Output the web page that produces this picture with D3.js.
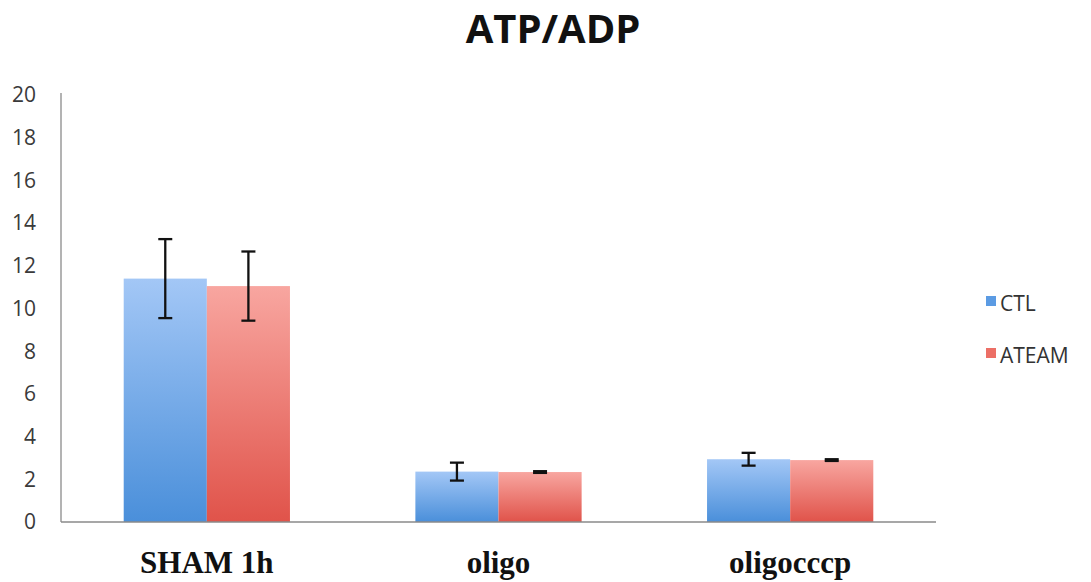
<!DOCTYPE html>
<html>
<head>
<meta charset="utf-8">
<script src="https://cdn.jsdelivr.net/npm/d3@7"></script>
<style>
  html, body { margin: 0; padding: 0; background: #fff; }
  svg { display: block; }
</style>
</head>
<body>
<svg id="chart" width="1091" height="582"></svg>
<script>
const categories = ["SHAM 1h", "oligo", "oligocccp"];
const seriesNames = ["CTL", "ATEAM"];
const ctlValues = [11.4, 2.36, 2.94];
const ctlErrors = [1.85, 0.42, 0.3];
const ateamValues = [11.05, 2.34, 2.9];
const ateamErrors = [1.62, 0.04, 0.04];
const yTicks = [0, 2, 4, 6, 8, 10, 12, 14, 16, 18, 20];

const series = [
  { name: seriesNames[0], values: ctlValues, errors: ctlErrors, top: "#a3c7f6", bottom: "#4a8fda", legend: "#5b9be3" },
  { name: seriesNames[1], values: ateamValues, errors: ateamErrors, top: "#f8a6a0", bottom: "#e0534a", legend: "#ec6f66" }
];

const svg = d3.select("#chart");
const defs = svg.append("defs");
series.forEach((s, i) => {
  const g = defs.append("linearGradient").attr("id", "grad" + i)
    .attr("x1", 0).attr("y1", 0).attr("x2", 0).attr("y2", 1);
  g.append("stop").attr("offset", "0%").attr("stop-color", s.top);
  g.append("stop").attr("offset", "100%").attr("stop-color", s.bottom);
});

const x0 = d3.scaleBand().domain(categories).range([61, 936]).paddingInner(0.43).paddingOuter(0.215);
const x1 = d3.scaleBand().domain(seriesNames).range([0, x0.bandwidth()]);
const y = d3.scaleLinear().domain([0, 20]).range([522, 95]);

// title
svg.append("text").attr("x", 553).attr("y", 43).attr("text-anchor", "middle")
  .attr("font-family", "Open Sans, sans-serif").attr("font-weight", "bold").attr("font-size", 40)
  .attr("fill", "#111").text("ATP/ADP");

// y tick labels
svg.append("g").selectAll("text").data(yTicks).join("text")
  .attr("x", 36).attr("y", d => y(d)).attr("dy", "0.35em").attr("text-anchor", "end")
  .attr("font-family", "Open Sans, sans-serif").attr("font-size", 21).attr("fill", "#3a3a3a")
  .text(d => d);

// bars
series.forEach((s, i) => {
  svg.append("g").selectAll("rect").data(categories).join("rect")
    .attr("x", c => x0(c) + x1(s.name))
    .attr("y", (c, j) => y(s.values[j]))
    .attr("width", x1.bandwidth())
    .attr("height", (c, j) => y(0) - y(s.values[j]))
    .attr("fill", "url(#grad" + i + ")");
});

// axes lines
svg.append("line").attr("x1", 61).attr("x2", 61).attr("y1", 93).attr("y2", y(0))
  .attr("stroke", "#9a9a9a").attr("stroke-width", 1.5);
svg.append("line").attr("x1", 61).attr("x2", 936).attr("y1", y(0)).attr("y2", y(0))
  .attr("stroke", "#8a8a8a").attr("stroke-width", 1.5);

// error bars
series.forEach((s) => {
  const g = svg.append("g").attr("stroke", "#111").attr("stroke-width", 2.3);
  categories.forEach((c, j) => {
    const cx = x0(c) + x1(s.name) + x1.bandwidth() / 2;
    const hi = y(s.values[j] + s.errors[j]);
    const lo = y(s.values[j] - s.errors[j]);
    g.append("line").attr("x1", cx).attr("x2", cx).attr("y1", hi).attr("y2", lo);
    g.append("line").attr("x1", cx - 7).attr("x2", cx + 7).attr("y1", hi).attr("y2", hi);
    g.append("line").attr("x1", cx - 7).attr("x2", cx + 7).attr("y1", lo).attr("y2", lo);
  });
});

// category labels
svg.append("g").selectAll("text").data(categories).join("text")
  .attr("x", c => x0(c) + x0.bandwidth() / 2).attr("y", 573).attr("text-anchor", "middle")
  .attr("font-family", "Liberation Serif, Times New Roman, serif").attr("font-weight", "bold")
  .attr("font-size", 31).attr("fill", "#111").text(c => c);

// legend
const legend = svg.append("g");
series.forEach((s, i) => {
  const ly = 301 + i * 52;
  legend.append("rect").attr("x", 986).attr("y", ly - 5).attr("width", 10).attr("height", 10).attr("fill", s.legend);
  legend.append("text").attr("x", 1000).attr("y", ly + 10).attr("font-family", "Open Sans, sans-serif")
    .attr("font-size", 21).attr("fill", "#333").text(s.name);
});
</script>
</body>
</html>
